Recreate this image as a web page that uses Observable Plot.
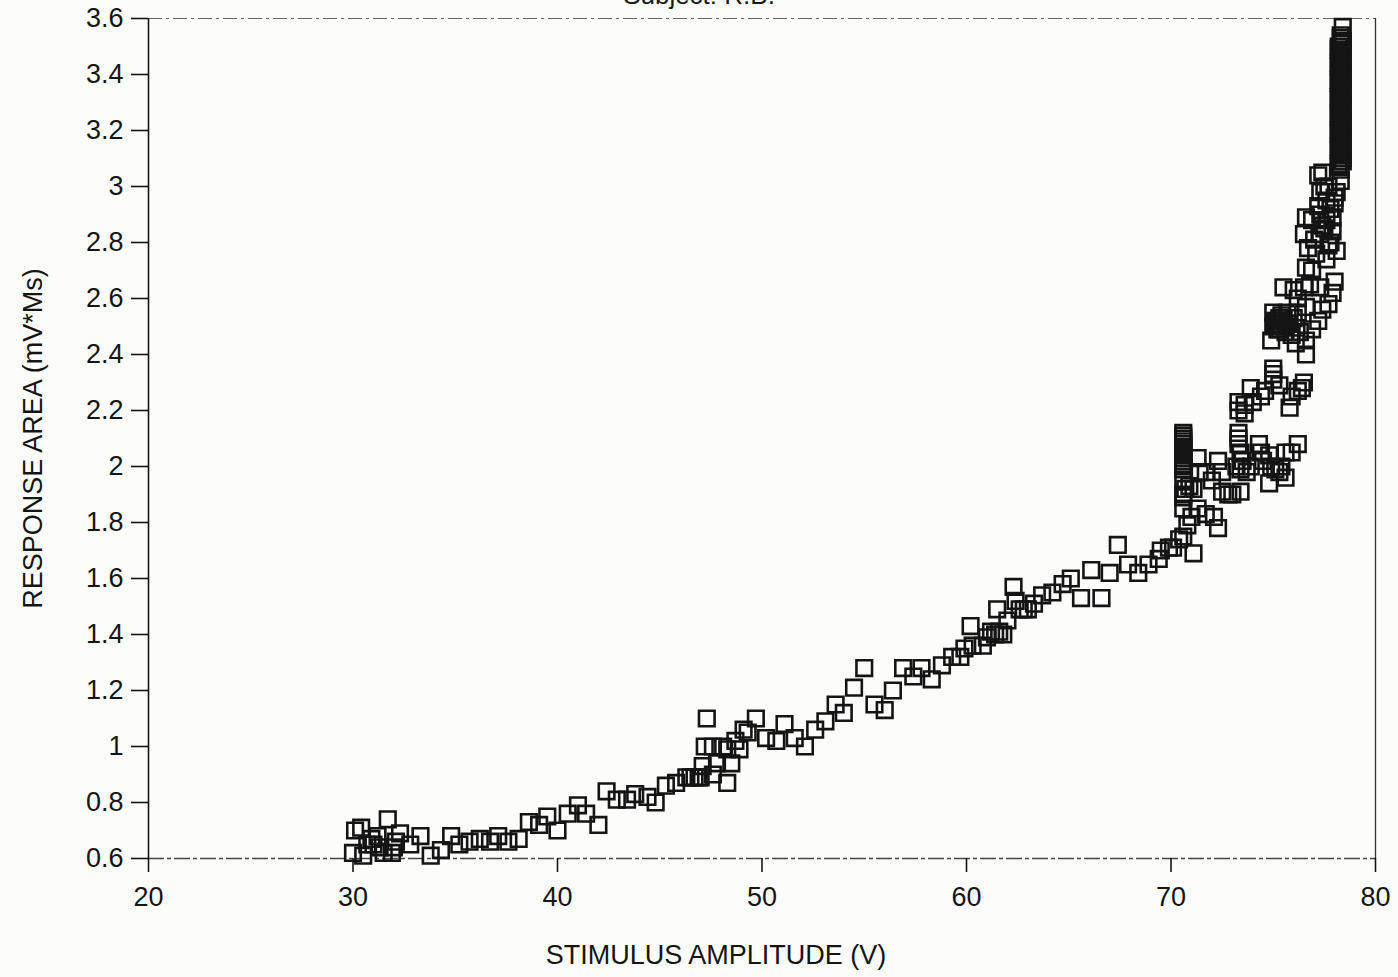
<!DOCTYPE html>
<html>
<head>
<meta charset="utf-8">
<script src="https://cdn.jsdelivr.net/npm/d3@7"></script>
<script src="https://cdn.jsdelivr.net/npm/@observablehq/plot@0.6"></script>
<style>
  html, body { margin: 0; padding: 0; background: #fcfcfb; overflow: hidden; }
  #wrap { position: relative; width: 1398px; height: 977px; }
  #title {
    position: absolute; top: -20px; left: 0; width: 1398px; text-align: center;
    font: 26px "Liberation Sans", Arial, sans-serif; color: #1a1a1a;
  }
  #chart { position: absolute; top: 0; left: 0; }
</style>
</head>
<body>
<div id="wrap">
  <div id="title">Subject: R.B.</div>
  <div id="chart"></div>
</div>
<script>
// Stimulus amplitude (V) of each recorded response
const stimulus = [
  30.0, 30.1, 30.4, 30.5, 30.7, 30.9, 31.0, 31.2, 31.5, 31.7, 31.9, 32.1, 32.3, 32.0, 31.3,
  32.8, 33.3, 33.8, 34.3, 34.8, 35.2, 35.7, 36.2, 36.7, 37.1, 37.6, 38.1, 38.6, 39.1, 39.5,
  40.0, 40.5, 41.0, 41.4, 42.0, 42.4, 42.9, 43.4, 43.8, 44.4, 44.8, 45.3, 45.8, 46.3, 46.5,
  46.7, 46.9, 47.0, 47.1, 47.3, 47.2, 47.6, 47.8, 47.6, 48.1, 48.3, 48.5, 48.3, 48.7, 48.9,
  49.1, 49.3, 49.7, 50.2, 50.7, 51.1, 51.6, 52.1, 52.6, 53.1, 53.6, 54.0, 54.5, 55.0, 55.5,
  56.0, 56.4, 56.9, 57.4, 57.8, 58.3, 58.8, 59.3, 59.7, 59.9, 60.2, 60.3, 60.8, 61.0, 61.2,
  61.4, 61.6, 61.8, 61.5, 62.0, 62.3, 62.4, 62.6, 62.8, 63.0, 63.3, 63.7, 64.2, 64.7, 65.1,
  65.6, 66.1, 66.6, 67.0, 67.4, 67.9, 68.4, 68.9, 69.4, 69.5, 69.9, 70.1, 70.4, 70.6, 71.1,
  70.8, 71.0, 70.6, 70.6, 70.7, 71.1, 71.3, 71.7, 72.1, 72.3,
  70.6, 70.6, 70.6, 70.6, 70.6, 70.6, 70.6, 70.6, 70.6, 70.9,
  70.6, 70.6, 70.6, 70.6, 70.6, 70.6, 70.6,
  71.3, 71.4, 71.7, 72.0, 72.3, 72.5, 72.5, 72.8, 73.0, 73.4,
  73.3, 73.3, 73.3, 73.4, 73.5, 73.2, 73.4, 73.7, 73.9, 74.3, 74.4, 74.5, 74.8, 74.9, 74.8,
  75.1, 75.3, 75.4, 75.6, 75.6, 75.9, 76.2,
  73.3, 73.3, 73.6, 73.6, 73.9, 74.0, 74.4, 74.6, 75.0, 75.0, 75.0, 75.3, 75.8, 75.9, 76.2,
  76.4, 76.5,
  74.9, 75.0, 75.1, 75.2, 75.3, 75.4, 75.5, 75.6, 75.7, 75.8, 75.9, 76.0, 76.2, 76.3, 76.1,
  76.6, 76.6, 76.9, 77.2, 77.4, 77.7, 77.9, 78.0, 75.5, 76.0, 76.5, 76.8, 77.3, 76.2, 76.6,
  75.0, 75.2, 75.4, 75.6, 75.1, 75.3, 75.5, 75.7,
  76.6, 76.9, 77.6, 78.1, 76.7, 76.5, 77.3, 76.6, 76.9, 77.6, 77.9, 77.2, 77.3, 77.6, 78.0,
  77.5, 78.3, 77.2, 77.4, 77.7, 77.8, 77.1, 77.4, 77.8, 78.1,
  77.0, 77.5, 77.9, 77.3, 77.7, 78.0,
  78.3, 78.2, 78.4, 78.3, 78.2, 78.4, 78.3, 78.2, 78.4, 78.3, 78.2, 78.4, 78.3, 78.2, 78.4,
  78.3, 78.2, 78.4, 78.3, 78.2, 78.4, 78.3, 78.2, 78.4, 78.4,
  78.2, 78.4, 78.3, 78.2, 78.4, 78.3, 78.2, 78.4, 78.3, 78.2, 78.4, 78.3, 78.2, 78.4, 78.3,
  78.2, 78.4, 78.3, 78.2, 78.4, 78.3, 78.2, 78.4, 78.3, 78.3
];

// Response area (mV*Ms), same order as stimulus
const area = [
  0.62, 0.70, 0.71, 0.61, 0.65, 0.67, 0.65, 0.68, 0.62, 0.74, 0.62, 0.66, 0.69, 0.64, 0.64,
  0.65, 0.68, 0.61, 0.63, 0.68, 0.65, 0.66, 0.67, 0.66, 0.68, 0.66, 0.67, 0.73, 0.72, 0.75,
  0.70, 0.76, 0.79, 0.76, 0.72, 0.84, 0.81, 0.81, 0.83, 0.82, 0.80, 0.86, 0.87, 0.89, 0.89,
  0.89, 0.89, 0.89, 0.93, 1.10, 1.00, 0.90, 0.94, 1.00, 1.00, 0.87, 0.94, 0.99, 1.02, 0.99,
  1.06, 1.05, 1.10, 1.03, 1.02, 1.08, 1.03, 1.00, 1.06, 1.09, 1.15, 1.12, 1.21, 1.28, 1.15,
  1.13, 1.20, 1.28, 1.25, 1.28, 1.24, 1.29, 1.32, 1.32, 1.35, 1.43, 1.36, 1.36, 1.39, 1.41,
  1.40, 1.41, 1.40, 1.49, 1.45, 1.57, 1.52, 1.49, 1.49, 1.49, 1.51, 1.54, 1.55, 1.58, 1.60,
  1.53, 1.63, 1.53, 1.62, 1.72, 1.65, 1.62, 1.65, 1.67, 1.70, 1.71, 1.71, 1.74, 1.75, 1.69,
  1.79, 1.82, 1.85, 1.89, 1.92, 1.92, 1.85, 1.83, 1.82, 1.78,
  1.99, 2.01, 2.03, 2.05, 2.07, 2.09, 2.11, 1.95, 1.90, 1.93,
  2.00, 2.02, 2.04, 2.06, 2.08, 2.10, 2.12,
  2.03, 1.98, 1.98, 1.95, 2.02, 1.98, 1.91, 1.90, 1.90, 1.91,
  2.12, 2.10, 2.08, 2.05, 2.02, 2.00, 1.99, 1.98, 2.00, 2.08, 2.05, 2.02, 2.04, 2.00, 1.94,
  1.99, 1.98, 2.00, 2.05, 1.96, 2.05, 2.08,
  2.23, 2.20, 2.22, 2.19, 2.28, 2.23, 2.25, 2.27, 2.35, 2.33, 2.31, 2.29, 2.21, 2.25, 2.27,
  2.28, 2.30,
  2.45, 2.55, 2.52, 2.49, 2.53, 2.50, 2.52, 2.48, 2.55, 2.51, 2.47, 2.53, 2.55, 2.48, 2.44,
  2.40, 2.45, 2.49, 2.52, 2.56, 2.58, 2.62, 2.66, 2.64, 2.63, 2.64, 2.65, 2.64, 2.60, 2.57,
  2.50, 2.52, 2.54, 2.50, 2.51, 2.49, 2.53, 2.51,
  2.71, 2.70, 2.74, 2.77, 2.78, 2.83, 2.83, 2.89, 2.88, 2.88, 2.89, 2.93, 2.98, 2.95, 2.96,
  3.00, 3.02, 3.04, 3.05, 3.00, 2.80, 2.76, 2.86, 2.92, 2.98,
  2.81, 2.85, 2.84, 2.90, 2.79, 2.94,
  3.06, 3.08, 3.10, 3.12, 3.14, 3.16, 3.18, 3.20, 3.22, 3.24, 3.26, 3.28, 3.30, 3.32, 3.34,
  3.36, 3.38, 3.40, 3.42, 3.44, 3.46, 3.48, 3.50, 3.52, 3.57,
  3.07, 3.09, 3.11, 3.13, 3.15, 3.17, 3.19, 3.21, 3.23, 3.25, 3.27, 3.29, 3.31, 3.33, 3.35,
  3.37, 3.39, 3.41, 3.43, 3.45, 3.47, 3.49, 3.51, 3.53, 3.54
];

const xTicks = [20, 30, 40, 50, 60, 70, 80];
const yTicks = [0.6, 0.8, 1, 1.2, 1.4, 1.6, 1.8, 2, 2.2, 2.4, 2.6, 2.8, 3, 3.2, 3.4, 3.6];
const xLabel = "STIMULUS AMPLITUDE (V)";
const yLabel = "RESPONSE AREA (mV*Ms)";

const points = stimulus.map((s, i) => ({stimulus: s, area: area[i]}));
const ink = "#141414";

const chart = Plot.plot({
  width: 1398,
  height: 977,
  marginLeft: 148,
  marginRight: 23,
  marginTop: 18,
  marginBottom: 119,
  x: {domain: [20, 80]},
  y: {domain: [0.6, 3.6]},
  style: {
    fontFamily: "'Liberation Sans', Arial, sans-serif",
    fontSize: "27px",
    background: "transparent",
    color: ink,
    overflow: "visible"
  },
  marks: [
    // plot frame: solid left axis, faint dashed top/bottom, thin right edge
    Plot.ruleY([3.6], {stroke: "#666", strokeWidth: 1.2, strokeDasharray: "14,4,3,4"}),
    Plot.ruleY([0.6], {stroke: "#444", strokeWidth: 1.3, strokeDasharray: "16,3,4,3"}),
    Plot.ruleX([80], {stroke: "#333", strokeWidth: 1.3}),
    Plot.ruleX([20], {stroke: ink, strokeWidth: 1.6}),
    Plot.axisX({
      ticks: xTicks,
      tickSize: 14,
      tickPadding: 14,
      stroke: ink,
      strokeWidth: 1.6,
      fontSize: 27,
      label: null
    }),
    // x title sits a little left of the frame's centre
    Plot.text([xLabel], {
      frameAnchor: "bottom",
      dx: -46,
      dy: 105,
      fontSize: 27,
      fill: ink
    }),
    Plot.axisY({
      ticks: yTicks,
      tickSize: 17,
      tickPadding: 8,
      stroke: ink,
      strokeWidth: 1.6,
      fontSize: 27,
      tickFormat: d => String(+d.toFixed(1)),
      label: yLabel,
      labelAnchor: "center",
      labelArrow: "none",
      labelOffset: 126
    }),
    Plot.dot(points, {
      x: "stimulus",
      y: "area",
      symbol: "square",
      r: 8.8,
      fill: "none",
      stroke: ink,
      strokeWidth: 2.6
    })
  ]
});

document.getElementById("chart").appendChild(chart);
</script>
</body>
</html>
